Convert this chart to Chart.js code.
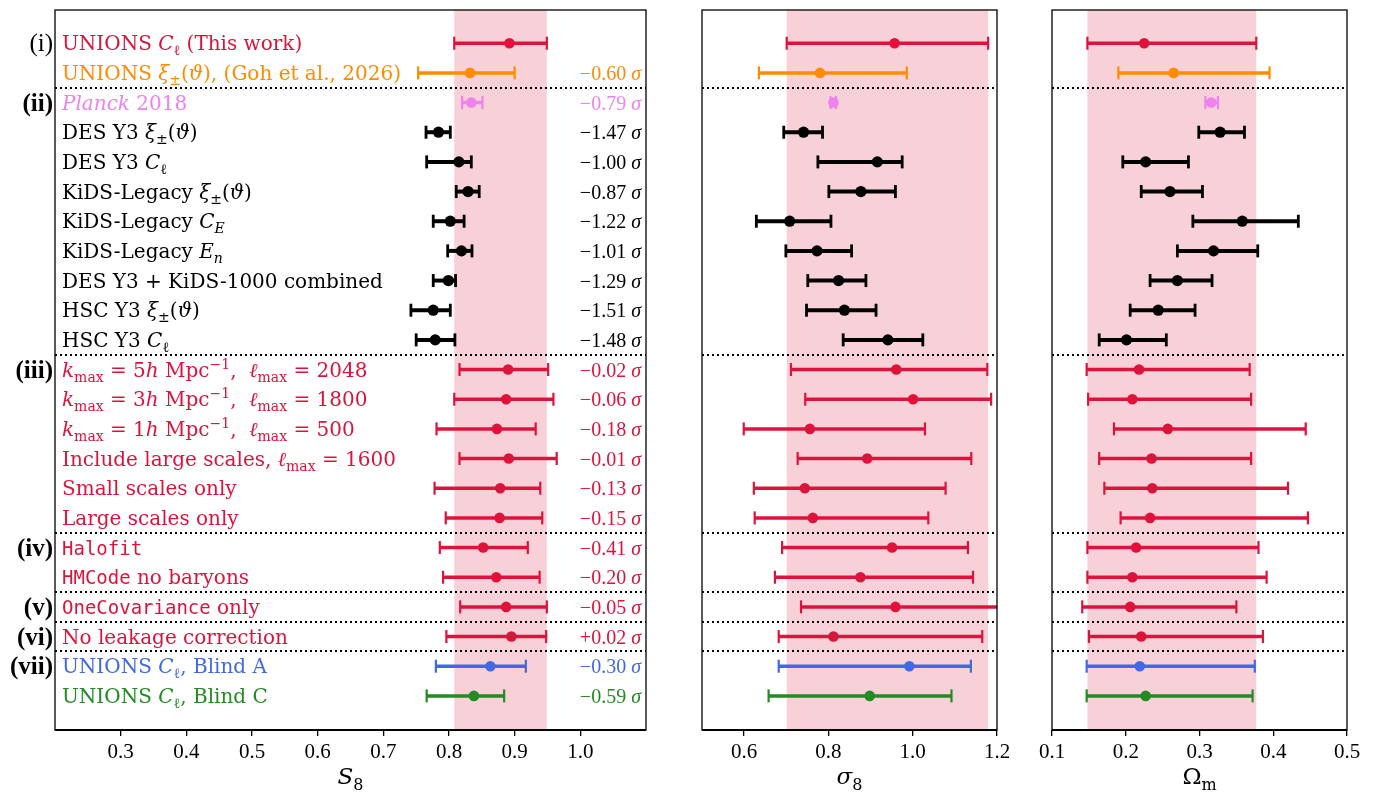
<!DOCTYPE html>
<html>
<head>
<meta charset="utf-8">
<script src="https://cdn.jsdelivr.net/npm/chart.js@4.4.1/dist/chart.umd.min.js"></script>
<style>
  body { margin: 0; background: #fff; }
  canvas { position: absolute; top: 0; }
</style>
</head>
<body>
<canvas id="s8Chart" width="660" height="794" style="left:0"></canvas>
<canvas id="sig8Chart" width="340" height="794" style="left:680px"></canvas>
<canvas id="omChart" width="344" height="794" style="left:1030px"></canvas>
<script>
// row labels, as [text, kind] runs: r roman, i italic, sb subscript, sp superscript, m monospace
const rowLabels = [
  [['UNIONS ', 'r'], ['C', 'i'], ['ℓ', 'sb'], [' (This work)', 'r']],
  [['UNIONS ', 'r'], ['ξ', 'i'], ['±', 'sb'], ['(', 'r'], ['ϑ', 'i'], ['), (Goh et al., 2026)', 'r']],
  [['Planck', 'i'], [' 2018', 'r']],
  [['DES Y3 ', 'r'], ['ξ', 'i'], ['±', 'sb'], ['(', 'r'], ['ϑ', 'i'], [')', 'r']],
  [['DES Y3 ', 'r'], ['C', 'i'], ['ℓ', 'sb']],
  [['KiDS-Legacy ', 'r'], ['ξ', 'i'], ['±', 'sb'], ['(', 'r'], ['ϑ', 'i'], [')', 'r']],
  [['KiDS-Legacy ', 'r'], ['C', 'i'], ['E', 'sbi']],
  [['KiDS-Legacy ', 'r'], ['E', 'i'], ['n', 'sbi']],
  [['DES Y3 + KiDS-1000 combined', 'r']],
  [['HSC Y3 ', 'r'], ['ξ', 'i'], ['±', 'sb'], ['(', 'r'], ['ϑ', 'i'], [')', 'r']],
  [['HSC Y3 ', 'r'], ['C', 'i'], ['ℓ', 'sb']],
  [['k', 'i'], ['max', 'sb'], [' = 5', 'r'], ['h', 'i'], [' Mpc', 'r'], ['−1', 'sp'], [',  ', 'r'], ['ℓ', 'i'], ['max', 'sb'], [' = 2048', 'r']],
  [['k', 'i'], ['max', 'sb'], [' = 3', 'r'], ['h', 'i'], [' Mpc', 'r'], ['−1', 'sp'], [',  ', 'r'], ['ℓ', 'i'], ['max', 'sb'], [' = 1800', 'r']],
  [['k', 'i'], ['max', 'sb'], [' = 1', 'r'], ['h', 'i'], [' Mpc', 'r'], ['−1', 'sp'], [',  ', 'r'], ['ℓ', 'i'], ['max', 'sb'], [' = 500', 'r']],
  [['Include large scales, ', 'r'], ['ℓ', 'i'], ['max', 'sb'], [' = 1600', 'r']],
  [['Small scales only', 'r']],
  [['Large scales only', 'r']],
  [['Halofit', 'm']],
  [['HMCode', 'm'], [' no baryons', 'r']],
  [['OneCovariance', 'm'], [' only', 'r']],
  [['No leakage correction', 'r']],
  [['UNIONS ', 'r'], ['C', 'i'], ['ℓ', 'sb'], [', Blind A', 'r']],
  [['UNIONS ', 'r'], ['C', 'i'], ['ℓ', 'sb'], [', Blind C', 'r']]
];

const tensionText = ['', '−0.60', '−0.79', '−1.47', '−1.00', '−0.87', '−1.22', '−1.01', '−1.29', '−1.51',
  '−1.48', '−0.02', '−0.06', '−0.18', '−0.01', '−0.13', '−0.15', '−0.41', '−0.20', '−0.05', '+0.02',
  '−0.30', '−0.59'];

const CRIMSON = '#DC143C', ORANGE = '#FF8C00', VIOLET = '#EE82EE', BLACK = '#000000',
      BLUE = '#4169E1', GREEN = '#228B22';
const rowColors = [CRIMSON, ORANGE, VIOLET, BLACK, BLACK, BLACK, BLACK, BLACK, BLACK, BLACK, BLACK,
  CRIMSON, CRIMSON, CRIMSON, CRIMSON, CRIMSON, CRIMSON, CRIMSON, CRIMSON, CRIMSON, CRIMSON, BLUE, GREEN];

const groupTags = [[0, '(i)'], [2, '(ii)'], [11, '(iii)'], [17, '(iv)'], [19, '(v)'], [20, '(vi)'], [21, '(vii)']];
const separators = [1.5, 10.5, 16.5, 18.5, 19.5, 20.5];

const s8Val = [0.892, 0.832, 0.834, 0.784, 0.815, 0.829, 0.802, 0.819, 0.799, 0.776, 0.779,
  0.890, 0.887, 0.873, 0.891, 0.878, 0.877, 0.852, 0.872, 0.887, 0.895, 0.863, 0.838];
const s8Lo = [0.808, 0.753, 0.820, 0.765, 0.766, 0.811, 0.776, 0.798, 0.776, 0.742, 0.750,
  0.816, 0.808, 0.781, 0.816, 0.778, 0.795, 0.786, 0.791, 0.817, 0.796, 0.780, 0.766];
const s8Hi = [0.949, 0.900, 0.851, 0.802, 0.834, 0.846, 0.823, 0.835, 0.810, 0.802, 0.809,
  0.951, 0.959, 0.932, 0.964, 0.939, 0.942, 0.920, 0.938, 0.949, 0.948, 0.917, 0.884];

const sig8Val = [0.957, 0.780, 0.812, 0.741, 0.916, 0.877, 0.708, 0.773, 0.824, 0.838, 0.941,
  0.961, 1.001, 0.756, 0.892, 0.744, 0.763, 0.951, 0.876, 0.959, 0.812, 0.992, 0.898];
const sig8Lo = [0.701, 0.635, 0.805, 0.694, 0.775, 0.801, 0.629, 0.699, 0.751, 0.748, 0.835,
  0.711, 0.745, 0.599, 0.727, 0.623, 0.625, 0.690, 0.673, 0.735, 0.682, 0.682, 0.658];
const sig8Hi = [1.179, 0.986, 0.818, 0.786, 0.975, 0.959, 0.806, 0.855, 0.889, 0.913, 1.024,
  1.177, 1.186, 1.029, 1.139, 1.078, 1.037, 1.131, 1.143, 1.220, 1.165, 1.138, 1.092];

const omVal = [0.225, 0.265, 0.316, 0.328, 0.227, 0.260, 0.358, 0.319, 0.270, 0.244, 0.201,
  0.218, 0.209, 0.257, 0.235, 0.236, 0.233, 0.214, 0.209, 0.206, 0.221, 0.219, 0.227];
const omLo = [0.148, 0.190, 0.308, 0.299, 0.196, 0.221, 0.291, 0.270, 0.233, 0.206, 0.164,
  0.147, 0.149, 0.184, 0.164, 0.171, 0.193, 0.148, 0.148, 0.141, 0.150, 0.147, 0.147];
const omHi = [0.377, 0.395, 0.325, 0.361, 0.285, 0.304, 0.434, 0.379, 0.317, 0.294, 0.255,
  0.368, 0.370, 0.444, 0.370, 0.420, 0.447, 0.380, 0.391, 0.350, 0.386, 0.375, 0.372];

const s8Ticks = [0.3, 0.4, 0.5, 0.6, 0.7, 0.8, 0.9, 1.0];
const sig8Ticks = [0.6, 0.8, 1.0, 1.2];
const omTicks = [0.1, 0.2, 0.3, 0.4, 0.5];

const SERIF = '"DejaVu Serif", serif';
const NUMSERIF = '"Liberation Serif", serif';

function segFont(kind, size, family) {
  const sub = Math.round(size * 0.7);
  switch (kind) {
    case 'i': return 'italic ' + size + 'px ' + family;
    case 'sb': case 'sp': return sub + 'px ' + family;
    case 'sbi': return 'italic ' + sub + 'px ' + family;
    case 'm': return (size - 1) + 'px "DejaVu Sans Mono", monospace';
    default: return size + 'px ' + family;
  }
}
function segShift(kind, size) {
  if (kind === 'sb' || kind === 'sbi') return size * 0.25;
  if (kind === 'sp') return -size * 0.4;
  return 0;
}
function richWidth(ctx, segs, size, family) {
  let w = 0;
  for (const [t, k] of segs) { ctx.font = segFont(k, size, family); w += ctx.measureText(t).width; }
  return w;
}
function drawRich(ctx, segs, x, y, size, family) {
  ctx.textBaseline = 'alphabetic';
  ctx.textAlign = 'left';
  for (const [t, k] of segs) {
    ctx.font = segFont(k, size, family);
    ctx.fillText(t, x, y + segShift(k, size));
    x += ctx.measureText(t).width;
  }
}

function makePanel(canvasId, vals, los, his, xmin, xmax, ticks, padL, padR, title, withLabels) {
  const points = vals.map((v, i) => ({ x: v, y: i }));

  const forestPlugin = {
    id: 'forest',
    beforeDatasetsDraw(chart) {
      const { ctx, chartArea: a, scales: { x, y } } = chart;
      ctx.save();
      ctx.beginPath();
      ctx.rect(a.left, a.top, a.right - a.left, a.bottom - a.top);
      ctx.clip();
      // reference band from the first row's interval
      ctx.fillStyle = 'rgba(220, 20, 60, 0.2)';
      const bx0 = x.getPixelForValue(los[0]), bx1 = x.getPixelForValue(his[0]);
      ctx.fillRect(bx0, a.top, bx1 - bx0, a.bottom - a.top);
      // group separators
      ctx.strokeStyle = '#000';
      ctx.lineWidth = 2;
      ctx.setLineDash([2, 3]);
      separators.forEach(s => {
        const py = Math.round(y.getPixelForValue(s));
        ctx.beginPath(); ctx.moveTo(a.left, py); ctx.lineTo(a.right, py); ctx.stroke();
      });
      ctx.setLineDash([]);
      // error bars with caps
      vals.forEach((v, i) => {
        const py = y.getPixelForValue(i);
        const x0 = x.getPixelForValue(los[i]), x1 = x.getPixelForValue(his[i]);
        const black = rowColors[i] === BLACK;
        ctx.strokeStyle = rowColors[i];
        ctx.lineWidth = black ? 4 : 3.5;
        ctx.beginPath(); ctx.moveTo(x0, py); ctx.lineTo(x1, py); ctx.stroke();
        ctx.lineWidth = black ? 2.8 : 2.2;
        [x0, x1].forEach(cx => {
          ctx.beginPath(); ctx.moveTo(cx, py - 6.5); ctx.lineTo(cx, py + 6.5); ctx.stroke();
        });
      });
      ctx.restore();
    },
    afterDraw(chart) {
      const { ctx, chartArea: a, scales: { y } } = chart;
      ctx.save();
      ctx.strokeStyle = '#000';
      ctx.lineWidth = 1.3;
      ctx.strokeRect(a.left, a.top, a.right - a.left, a.bottom - a.top);
      ctx.beginPath(); ctx.moveTo(a.left, a.bottom); ctx.lineTo(a.right, a.bottom);
      ctx.lineWidth = 2; ctx.stroke();
      // axis title
      ctx.fillStyle = '#000';
      const tw = richWidth(ctx, title, 23, SERIF);
      drawRich(ctx, title, (a.left + a.right) / 2 - tw / 2, 784, 23, SERIF);
      if (withLabels) {
        rowLabels.forEach((segs, i) => {
          const py = y.getPixelForValue(i) + 7;
          ctx.fillStyle = rowColors[i];
          drawRich(ctx, segs, a.left + 7, py, 20, SERIF);
          if (tensionText[i]) {
            const t = [[tensionText[i] + ' ', 'r'], ['σ', 'i']];
            const w = richWidth(ctx, t, 20, NUMSERIF);
            drawRich(ctx, t, a.right - 5 - w, py, 20, NUMSERIF);
          }
        });
        ctx.fillStyle = '#000';
        ctx.textAlign = 'right';
        ctx.textBaseline = 'alphabetic';
        groupTags.forEach(([row, tag]) => {
          ctx.font = (row === 0 ? '' : 'bold ') + '25px ' + NUMSERIF;
          ctx.fillText(tag, a.left - 2, y.getPixelForValue(row) + 8);
        });
      }
      ctx.restore();
    }
  };

  return new Chart(document.getElementById(canvasId), {
    type: 'scatter',
    data: {
      datasets: [{
        data: points,
        pointRadius: rowColors.map(c => (c === BLACK ? 5.6 : 5.3)),
        pointBackgroundColor: rowColors,
        pointBorderWidth: 0,
        pointHoverRadius: 5
      }]
    },
    options: {
      responsive: false,
      animation: false,
      events: [],
      layout: { padding: { left: padL, right: padR, top: 10, bottom: 0 } },
      plugins: { legend: { display: false }, tooltip: { enabled: false } },
      scales: {
        x: {
          type: 'linear',
          min: xmin,
          max: xmax,
          afterBuildTicks: s => { s.ticks = ticks.map(v => ({ value: v })); },
          afterFit: s => { s.height = 64; },
          ticks: {
            autoSkip: false,
            maxRotation: 0,
            padding: 4,
            color: '#000',
            font: { family: 'Liberation Serif', size: 21 },
            callback: v => Number(v).toFixed(1)
          },
          grid: { drawOnChartArea: false, drawTicks: true, tickLength: 6, color: '#000', lineWidth: 1.3 },
          border: { display: false }
        },
        y: { type: 'linear', reverse: true, min: -1.12, max: 23.15, display: false }
      }
    },
    plugins: [forestPlugin]
  });
}

makePanel('s8Chart', s8Val, s8Lo, s8Hi, 0.2, 1.1, s8Ticks, 55, 14, [['S', 'i'], ['8', 'sb']], true);
makePanel('sig8Chart', sig8Val, sig8Lo, sig8Hi, 0.5, 1.2, sig8Ticks, 22, 23, [['σ', 'i'], ['8', 'sb']], false);
makePanel('omChart', omVal, omLo, omHi, 0.1, 0.5, omTicks, 22, 27, [['Ω', 'r'], ['m', 'sb']], false);
</script>
</body>
</html>
